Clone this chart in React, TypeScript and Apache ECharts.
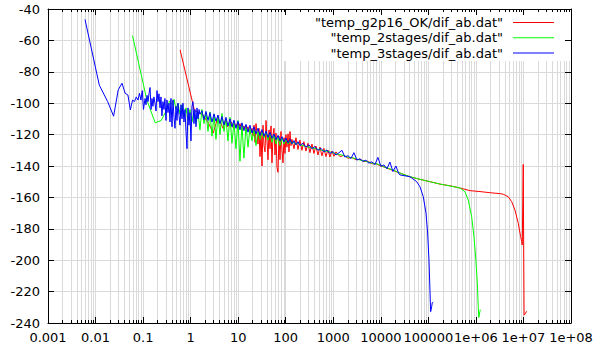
import React, { useEffect, useRef } from "react";
import * as echarts from "echarts";

const SERIES_NAMES = [
  '"temp_g2p16_OK/dif_ab.dat"',
  '"temp_2stages/dif_ab.dat"',
  '"temp_3stages/dif_ab.dat"',
];
const SERIES_COLORS = ["#ff0000", "#00ff00", "#0000ff"];

const X_TICK_LABELS = ["0.001", "0.01", "0.1", "1", "10", "100", "1000", "10000", "100000", "1e+06", "1e+07", "1e+08"];
const X_MIN = 0.001;
const X_MAX = 1e8;
const Y_MIN = -240;
const Y_MAX = -40;
const Y_STEP = 20;
const DECADES = [-3, -2, -1, 0, 1, 2, 3, 4, 5, 6, 7];
const MINOR_MULTIPLIERS = [2, 3, 4, 5, 6, 7, 8, 9];

const RED: [number, number][] = [
  [0.6, -66], [1.2, -104.5], [1.8, -107.5], [2.4, -113], [3.0, -119], [3.6, -110.5], [4.2, -112], [4.8, -116],
  [5.4, -111], [6.0, -115], [6.6, -113.5], [7.2, -112], [7.8, -115.5], [8.4, -113], [9.0, -114.5], [9.6, -113],
  [10.2, -115.5], [10.9, -113], [12.0, -117.5], [13.2, -114.5], [14.6, -118], [16.1, -115], [17.7, -119.5], [19.5, -116],
  [20.5, -121], [21.5, -114], [22.6, -125], [23.7, -113], [24.9, -119], [26.1, -126], [27.4, -116], [28.8, -134],
  [30.2, -118], [31.7, -140], [33.3, -114], [34.9, -127], [36.7, -131], [38.5, -111], [40.4, -124], [42.4, -136],
  [44.5, -117], [46.7, -129], [49.0, -114.5], [51.4, -138], [54.0, -120], [56.7, -116], [59.5, -133], [62.4, -119],
  [65.5, -141], [68.8, -144], [72.2, -121], [75.8, -136], [79.5, -118], [83.5, -130], [87.6, -138], [92.0, -122],
  [96.5, -132], [101, -120], [106, -128], [112, -119.5], [117, -131], [123, -118], [129, -127], [135, -123],
  [149, -129], [164, -122], [181, -129.5], [199, -123.5], [219, -130], [241, -124.5], [266, -130.5], [293, -125.5],
  [323, -131.5], [356, -126], [392, -132], [432, -127.3], [476, -133], [524, -128], [578, -133.5], [636, -128.8],
  [701, -134], [773, -129.8], [850, -134.3], [937, -130.5], [1032, -133.8], [1137, -131],
  [1380, -134], [1680, -133.2], [2032, -135], [2470, -134.6], [3000, -136], [3633, -135.8], [4420, -137.2], [5370, -137],
  [6495, -138.6], [7890, -138.5], [9580, -139.8], [12800, -141], [17100, -142.6], [22900, -144],
  [41000, -146.9], [66600, -148.5], [108000, -150], [175000, -151.5], [284000, -152.6], [462000, -154], [750000, -155.7],
  [1220000, -156.3], [1970000, -157], [3200000, -157.6], [3760000, -158], [4790000, -159.6], [5650000, -162.7],
  [6620000, -168], [7780000, -176.5], [8730000, -185], [9200000, -188], [9440000, -190.3], [9900000, -139],
  [10300000, -235], [11000000, -234], [11600000, -232.5],
];

const GREEN: [number, number][] = [
  [0.06, -57], [0.12, -98], [0.18, -112.5], [0.24, -111], [0.30, -105.4], [0.36, -98.6],
  [0.405, -101], [0.447, -97.5], [0.492, -104], [0.542, -100], [0.597, -107], [0.658, -101], [0.724, -109], [0.798, -103],
  [0.879, -111], [0.968, -104], [1.066, -112], [1.175, -105], [1.296, -113], [1.43, -106], [1.57, -117],
  [1.73, -104], [1.91, -113], [2.10, -106], [2.32, -118], [2.55, -105.5], [2.81, -121], [3.10, -107], [3.41, -123],
  [3.76, -108], [4.14, -120], [4.56, -106.5], [5.03, -118], [5.54, -110], [6.10, -124], [6.72, -109], [7.40, -125.5],
  [8.16, -112], [8.99, -129], [9.90, -111], [10.9, -137], [12.0, -113], [13.2, -135], [14.6, -114], [16.1, -128],
  [17.7, -116], [19.5, -124], [21.5, -117], [23.7, -127], [26.1, -118], [28.8, -123], [31.7, -118.5],
  [34.9, -122], [38.5, -118], [42.4, -123.5], [46.7, -119], [51.4, -125], [56.7, -120], [62.4, -126], [68.8, -121],
  [75.8, -127], [83.5, -122], [92.0, -126], [101, -123], [112, -126], [123, -124], [135, -126], [149, -124.5],
  [164, -126.5], [181, -125.2], [199, -126.5],
  [266, -127.5], [356, -128.5], [476, -129.3], [636, -130.3], [850, -131], [1137, -132.3], [1520, -133], [2032, -134.4],
  [2717, -135], [3633, -136.2], [4857, -137], [6495, -138.2], [8684, -138.8], [11610, -140.5], [15530, -141.8],
  [20760, -143.4], [27900, -145], [41000, -146.8], [66600, -148.5], [108000, -150], [175000, -151.5], [284000, -152.7],
  [462000, -154], [589000, -156.4], [691000, -161.7], [814000, -172.3], [910000, -185], [1000000, -199.9],
  [1070000, -214.5], [1120000, -229.6], [1150000, -236.5], [1210000, -232.8], [1240000, -231.5],
];

const BLUE: [number, number][] = [
  [0.006, -46.6], [0.012, -88.5], [0.018, -99], [0.024, -108.3], [0.030, -91.5], [0.036, -87.3], [0.042, -93.7],
  [0.048, -94.8], [0.054, -104.3], [0.060, -98], [0.066, -99], [0.072, -96], [0.078, -98], [0.084, -93.7],
  [0.090, -98], [0.096, -92], [0.102, -104],
  [0.110, -97], [0.115, -101], [0.121, -95], [0.127, -99], [0.133, -94], [0.140, -90], [0.147, -104], [0.154, -97],
  [0.161, -102], [0.169, -96], [0.178, -100], [0.187, -105], [0.196, -92], [0.206, -99], [0.216, -94], [0.227, -103],
  [0.238, -96], [0.249, -108], [0.262, -99], [0.275, -104], [0.288, -97], [0.303, -111], [0.318, -98], [0.334, -106],
  [0.351, -100], [0.368, -112], [0.386, -97], [0.405, -115], [0.426, -98], [0.447, -109], [0.469, -116], [0.492, -102],
  [0.516, -111], [0.542, -100], [0.569, -108], [0.597, -114], [0.627, -101], [0.658, -110], [0.690, -100], [0.724, -112],
  [0.760, -104], [0.798, -118], [0.838, -129], [0.879, -103], [0.923, -114], [0.968, -106], [1.016, -124], [1.066, -102],
  [1.119, -99], [1.175, -113], [1.233, -104], [1.296, -115], [1.36, -103], [1.43, -110], [1.50, -104], [1.57, -107],
  [1.73, -104.8], [1.91, -110.5], [2.10, -105.2], [2.32, -111], [2.55, -106], [2.81, -112], [3.10, -106.8],
  [3.41, -111.5], [3.76, -107.5], [4.14, -113], [4.56, -108.5], [5.03, -113.8], [5.54, -109], [6.10, -114.5],
  [6.72, -110], [7.40, -115], [8.16, -110.8], [8.99, -116], [9.90, -111.5], [10.9, -117], [12.0, -112.5],
  [13.2, -117.5], [14.6, -113.5], [16.1, -118.5], [17.7, -114], [19.5, -119], [21.5, -115], [23.7, -119.5],
  [26.1, -116], [28.8, -120.5], [31.7, -116.8], [34.9, -121], [38.5, -117.8], [42.4, -121.8], [46.7, -118.6],
  [51.4, -122.3], [56.7, -119.6], [62.4, -123.2], [68.8, -120.5], [75.8, -124], [83.5, -121.3], [92.0, -124.7],
  [101, -122.2], [112, -125.3], [123, -123], [135, -125.8], [149, -123.8], [164, -126.5], [181, -124.5], [199, -127],
  [230, -125.5], [266, -128], [308, -126.5], [356, -129], [411, -127.6], [476, -130], [550, -128.7], [636, -131],
  [735, -129.8], [850, -132], [983, -130.8], [1137, -133], [1314, -131.6], [1520, -130], [1757, -134.3], [2032, -133.4],
  [2350, -135.2], [2717, -131.5], [3142, -136.2], [3633, -135.4], [4201, -137], [4857, -136.3], [5617, -138.2],
  [6495, -137.3], [7510, -139.2], [8684, -134.5], [10040, -140.2], [11610, -139.3], [13430, -141.8], [15530, -137.5],
  [17950, -143.5], [20760, -140], [24000, -145],
  [25300, -145.7], [41000, -146.8], [56700, -150], [66600, -153.2], [78200, -159.6], [89100, -169.9], [96600, -182.7],
  [103000, -199.9], [108000, -219], [111700, -232.8], [117400, -229.6], [120800, -227.1], [126800, -226.8],
];

const SERIES_DATA = [RED, GREEN, BLUE];

const FONT = "DejaVu Sans";
const GRID_COLOR = "#dadada";

export default function App() {
  const ref = useRef<HTMLDivElement>(null);

  useEffect(() => {
    document.body.style.margin = "0";
    if (!ref.current) return;
    const chart = echarts.init(ref.current, null, { renderer: "svg" });

    const minorValues: number[][] = [];
    DECADES.forEach((d) => {
      MINOR_MULTIPLIERS.forEach((m) => {
        minorValues.push([m * Math.pow(10, d), -140]);
      });
    });

    const xLabel = (v: number) => {
      const idx = Math.round(Math.log10(v)) + 3;
      return X_TICK_LABELS[idx] ?? "";
    };

    const axisLineStyle = { color: "#000", width: 1 };

    const option: any = {
      animation: false,
      backgroundColor: "#ffffff",
      grid: { left: 48, right: 42, top: 9, bottom: 26, containLabel: false },
      xAxis: [
        {
          type: "log",
          logBase: 10,
          min: X_MIN,
          max: X_MAX,
          interval: 1,
          position: "bottom",
          axisLine: { show: true, onZero: false, lineStyle: axisLineStyle },
          axisTick: { show: true, inside: true, length: 6, lineStyle: axisLineStyle },
          axisLabel: { show: true, color: "#000", fontFamily: FONT, fontSize: 13, margin: 8, formatter: xLabel },
          splitLine: { show: true, lineStyle: { color: GRID_COLOR, width: 1 } },
        },
        {
          type: "log",
          logBase: 10,
          min: X_MIN,
          max: X_MAX,
          interval: 1,
          position: "top",
          z: 10,
          axisLine: { show: true, onZero: false, lineStyle: axisLineStyle },
          axisTick: { show: true, inside: true, length: 6, lineStyle: axisLineStyle },
          axisLabel: { show: false },
          splitLine: { show: false },
        },
      ],
      yAxis: [
        {
          type: "value",
          min: Y_MIN,
          max: Y_MAX,
          interval: Y_STEP,
          position: "left",
          axisLine: { show: true, onZero: false, lineStyle: axisLineStyle },
          axisTick: { show: true, inside: true, length: 6, lineStyle: axisLineStyle },
          axisLabel: { show: true, color: "#000", fontFamily: FONT, fontSize: 13, margin: 8 },
          splitLine: { show: true, lineStyle: { color: GRID_COLOR, width: 1 } },
        },
        {
          type: "value",
          min: Y_MIN,
          max: Y_MAX,
          interval: Y_STEP,
          position: "right",
          z: 10,
          axisLine: { show: true, onZero: false, lineStyle: axisLineStyle },
          axisTick: { show: true, inside: true, length: 6, lineStyle: axisLineStyle },
          axisLabel: { show: false },
          splitLine: { show: false },
        },
      ],
      legend: {
        orient: "vertical",
        align: "right",
        right: 59,
        top: 15,
        padding: 0,
        itemWidth: 41,
        itemHeight: 1,
        itemGap: 0.3,
        icon: "rect",
        selectedMode: false,
        z: 6,
        textStyle: { fontFamily: FONT, fontSize: 13, color: "#000", lineHeight: 15, padding: [0, 5, 0, 0] },
        data: SERIES_NAMES,
      },
      graphic: [
        {
          type: "rect",
          z: 3,
          silent: true,
          shape: { x: 283, y: 10, width: 287, height: 51 },
          style: { fill: "#ffffff" },
        },
      ],
      series: [
        {
          name: "minorGrid",
          type: "custom",
          coordinateSystem: "cartesian2d",
          xAxisIndex: 0,
          yAxisIndex: 0,
          z: 1,
          silent: true,
          clip: false,
          encode: { x: 0, y: 1 },
          data: minorValues,
          renderItem: (params: any, api: any) => {
            const pt = api.coord([api.value(0), -140]);
            const cs = params.coordSys;
            const x = Math.round(pt[0]) + 0.5;
            return {
              type: "line",
              shape: { x1: x, y1: cs.y, x2: x, y2: cs.y + cs.height },
              style: { stroke: GRID_COLOR, lineWidth: 1 },
            };
          },
        },
        ...SERIES_NAMES.map((name, i) => ({
          name,
          type: "line",
          xAxisIndex: 0,
          yAxisIndex: 0,
          data: SERIES_DATA[i],
          showSymbol: false,
          symbol: "none",
          z: 2,
          clip: true,
          lineStyle: { color: SERIES_COLORS[i], width: 1 },
          itemStyle: { color: SERIES_COLORS[i] },
        })),
        {
          name: "minorTicks",
          type: "custom",
          coordinateSystem: "cartesian2d",
          xAxisIndex: 0,
          yAxisIndex: 0,
          z: 10,
          silent: true,
          clip: false,
          encode: { x: 0, y: 1 },
          data: minorValues,
          renderItem: (params: any, api: any) => {
            const pt = api.coord([api.value(0), -140]);
            const cs = params.coordSys;
            const x = Math.round(pt[0]) + 0.5;
            const bottom = cs.y + cs.height;
            return {
              type: "group",
              children: [
                {
                  type: "line",
                  shape: { x1: x, y1: bottom, x2: x, y2: bottom - 3 },
                  style: { stroke: "#000", lineWidth: 1 },
                },
                {
                  type: "line",
                  shape: { x1: x, y1: cs.y, x2: x, y2: cs.y + 3 },
                  style: { stroke: "#000", lineWidth: 1 },
                },
              ],
            };
          },
        },
      ],
    };

    chart.setOption(option);
    return () => chart.dispose();
  }, []);

  return <div ref={ref} style={{ width: 613, height: 349 }} />;
}
